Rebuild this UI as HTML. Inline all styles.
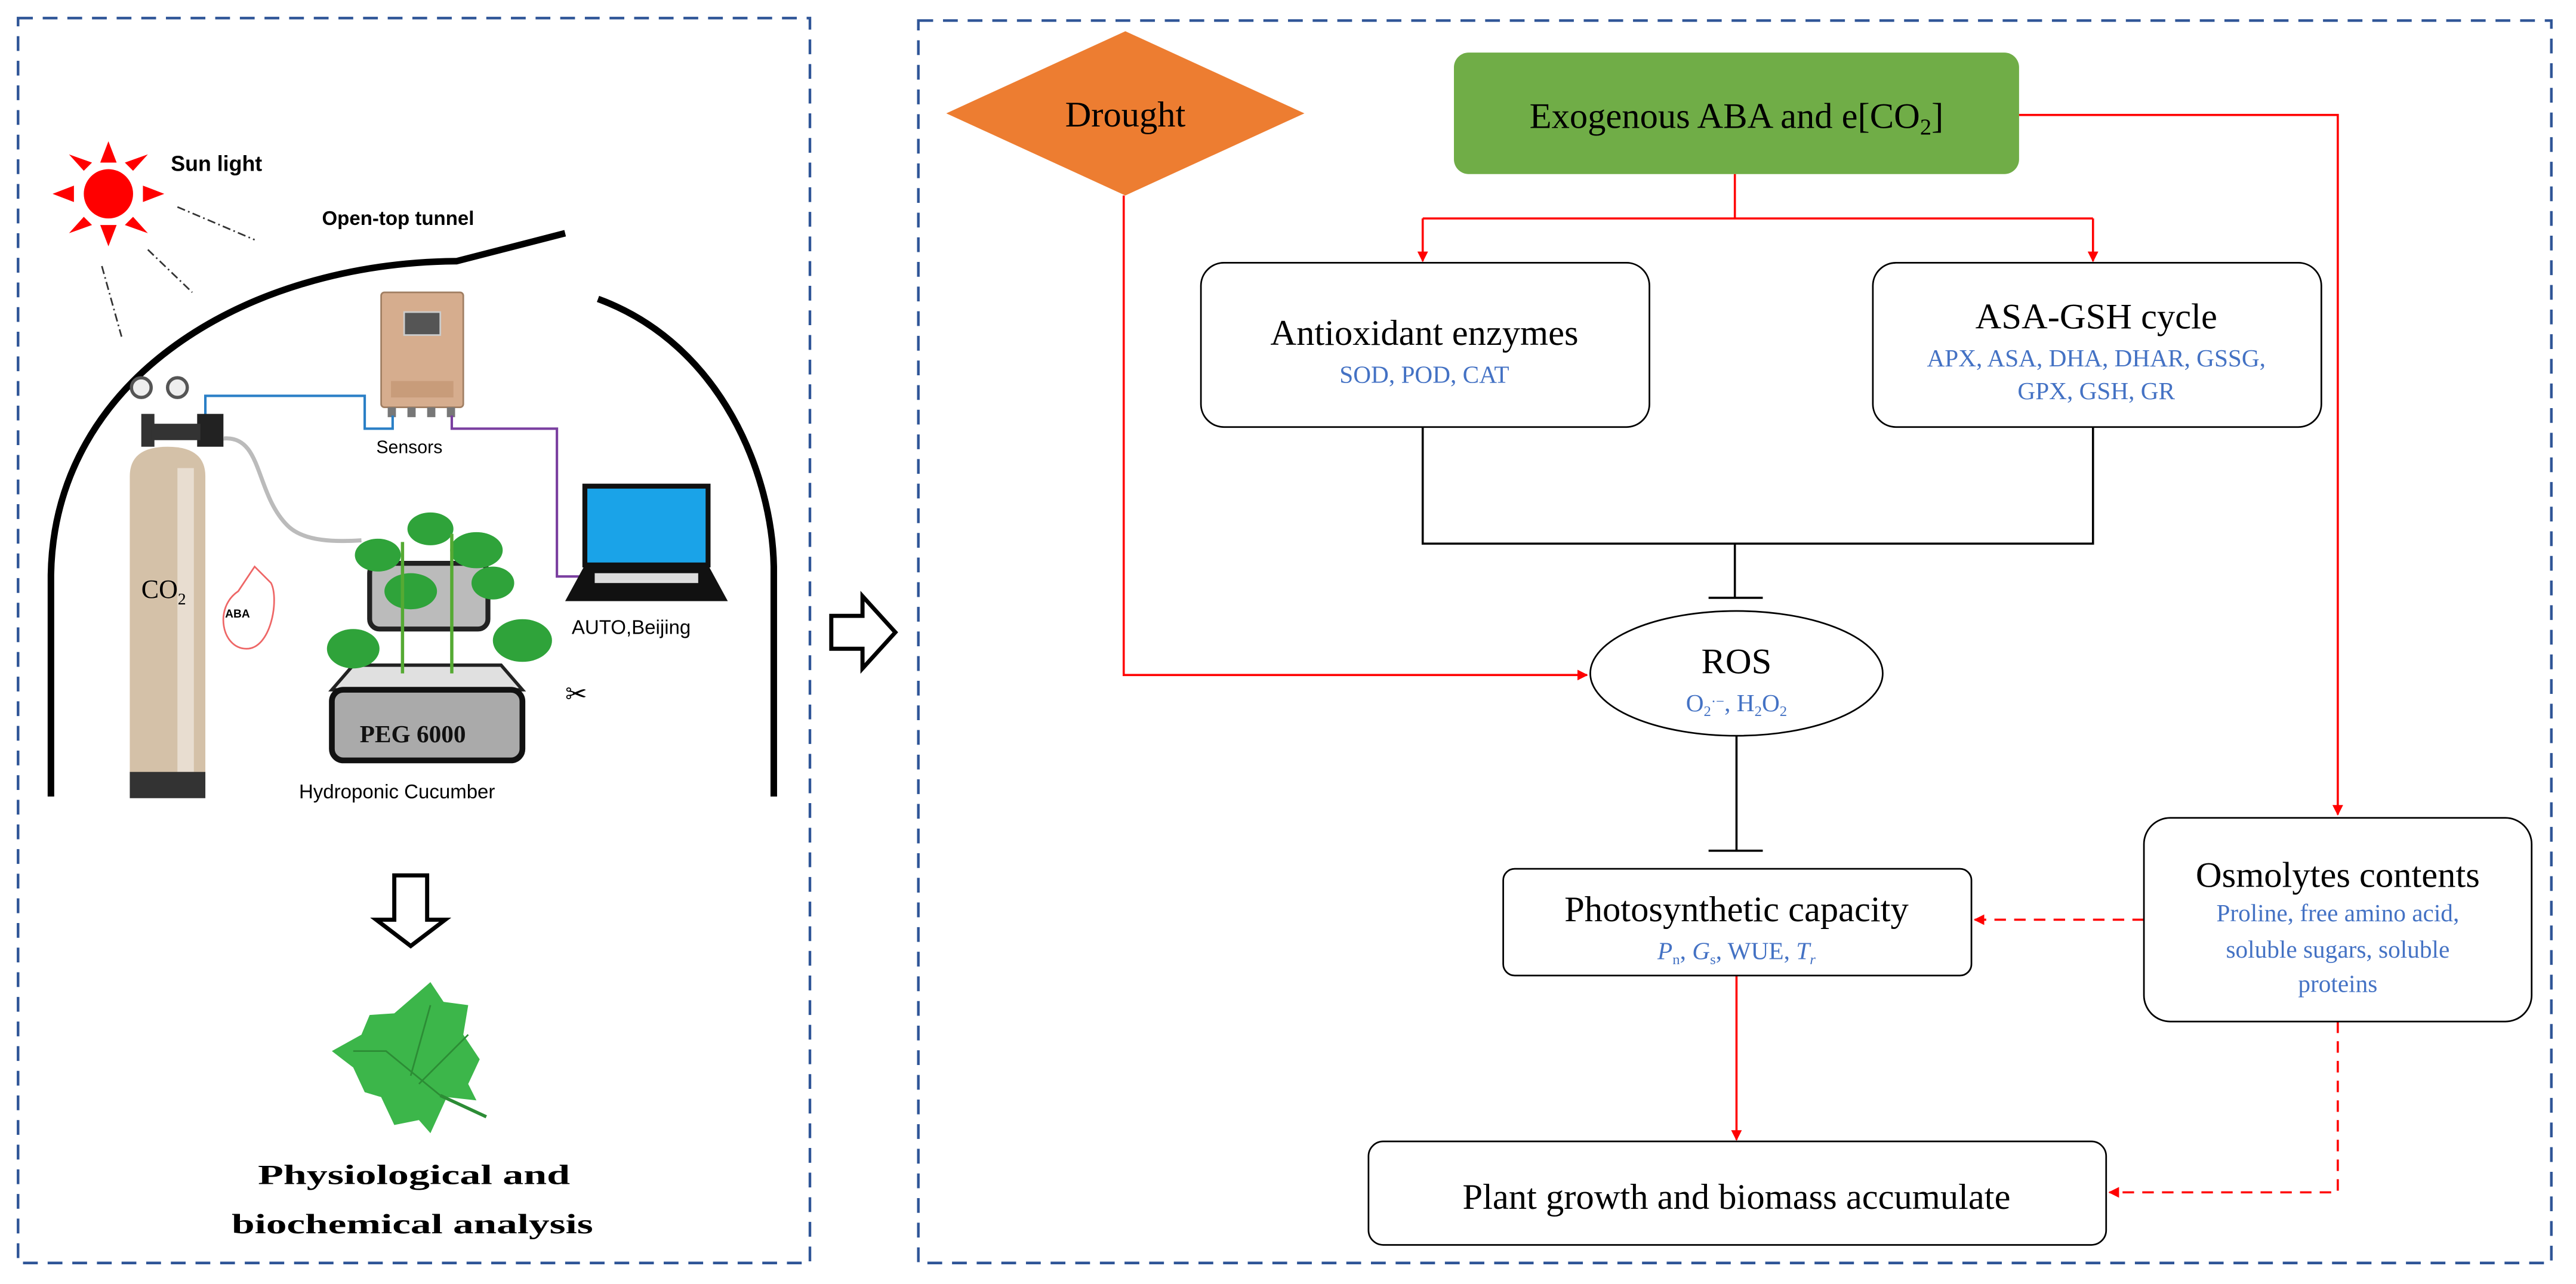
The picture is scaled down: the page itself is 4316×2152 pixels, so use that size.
<!DOCTYPE html>
<html><head><meta charset="utf-8"><style>html,body{margin:0;padding:0;background:#fff}svg{display:block}</style></head>
<body>
<svg width="4316" height="2152" viewBox="0 0 1568 781.8" xmlns="http://www.w3.org/2000/svg">
<defs>
<marker id="ar" viewBox="0 0 10 10" refX="9" refY="5" markerWidth="5" markerHeight="5" orient="auto"><path d="M0,0 L10,5 L0,10 z" fill="#f00"/></marker>
</defs>
<rect width="1568" height="781.8" fill="#fff"/>
<rect x="11" y="11" width="482" height="758" fill="none" stroke="#2F5597" stroke-width="1.6" stroke-dasharray="9 6"/>
<rect x="559" y="12.5" width="994" height="756.5" fill="none" stroke="#2F5597" stroke-width="1.6" stroke-dasharray="9 6"/>

<g font-family="Liberation Sans, sans-serif">
<g fill="#f00">
<circle cx="66" cy="118" r="15"/>
<polygon points="66,86 61,99 71,99"/><polygon points="66,150 61,137 71,137"/>
<polygon points="32,118 45,113 45,123"/><polygon points="100,118 87,113 87,123"/>
<polygon points="42,94 51,104 56,99"/><polygon points="90,94 81,104 76,99"/>
<polygon points="42,142 51,132 56,137"/><polygon points="90,142 81,132 76,137"/>
</g>
<g stroke="#333" stroke-width="1" stroke-dasharray="5 2 1 2" fill="none">
<line x1="108" y1="126" x2="155" y2="146"/><line x1="90" y1="152" x2="117" y2="178"/><line x1="62" y1="162" x2="74" y2="205"/>
</g>
<text x="104" y="104" font-size="13" font-weight="bold">Sun light</text>
<text x="196" y="137" font-size="12" font-weight="bold">Open-top tunnel</text>
<path d="M31,485 L31,350 C33,230 150,160 278,159 L344,142" fill="none" stroke="#000" stroke-width="4"/>
<path d="M364,182 C440,210 470,290 471,345 L471,485" fill="none" stroke="#000" stroke-width="4"/>
<rect x="232" y="178" width="50" height="70" rx="2" fill="#d6ad8e" stroke="#a07e62"/>
<rect x="246" y="190" width="22" height="14" fill="#555" stroke="#ccc"/>
<rect x="238" y="232" width="38" height="10" fill="#c89c7a"/>
<g fill="#777"><rect x="236" y="248" width="5" height="6"/><rect x="248" y="248" width="5" height="6"/><rect x="260" y="248" width="5" height="6"/><rect x="272" y="248" width="5" height="6"/></g>
<path d="M125,256 L125,241 L222,241 L222,261 L239,261 L239,253" fill="none" stroke="#2a7fc6" stroke-width="1.5"/>
<path d="M275,253 L275,261 L339,261 L339,351 L356,351" fill="none" stroke="#7a3fa0" stroke-width="1.5"/>
<text x="229" y="276" font-size="11">Sensors</text>
<rect x="356" y="296" width="75" height="48" fill="#1aa3e8" stroke="#111" stroke-width="3"/>
<polygon points="356,344 431,344 443,366 344,366" fill="#111"/>
<rect x="362" y="349" width="63" height="6" fill="#ddd"/>
<text x="348" y="386" font-size="12">AUTO,Beijing</text>
<rect x="86" y="252" width="8" height="20" fill="#333"/>
<rect x="120" y="252" width="16" height="20" fill="#222"/>
<rect x="92" y="258" width="30" height="10" fill="#333"/>
<circle cx="86" cy="236" r="6" fill="#eee" stroke="#555" stroke-width="2"/>
<circle cx="108" cy="236" r="6" fill="#eee" stroke="#555" stroke-width="2"/>
<path d="M79,290 Q79,272 102,272 Q125,272 125,290 L125,478 L79,478 Z" fill="#d4c1a8"/>
<rect x="108" y="285" width="10" height="185" fill="#e8ddd0"/>
<rect x="79" y="470" width="46" height="16" fill="#333"/>
<text x="86" y="364" font-size="16" font-family="Liberation Serif, serif">CO<tspan font-size="10" dy="4">2</tspan></text>
<path d="M136,267 C160,265 155,300 175,320 C185,330 205,330 220,329" fill="none" stroke="#bbb" stroke-width="2.5"/>
<path d="M145,360 C130,370 135,395 150,395 C165,395 170,365 165,355 L155,345 Z" fill="none" stroke="#e66" stroke-width="1"/>
<text x="137" y="376" font-size="7" font-weight="bold">ABA</text>
<rect x="225" y="343" width="72" height="40" rx="6" fill="#bbb" stroke="#222" stroke-width="3"/>
<polygon points="215,405 305,405 318,420 202,420" fill="#e0e0e0" stroke="#222" stroke-width="2"/>
<rect x="202" y="420" width="116" height="43" rx="7" fill="#aaa" stroke="#111" stroke-width="3.5"/>
<text x="219" y="452" font-size="15" font-weight="bold" font-family="Liberation Serif, serif" fill="#111">PEG 6000</text>
<g fill="#2fa33a">
<ellipse cx="230" cy="338" rx="14" ry="10"/><ellipse cx="262" cy="322" rx="14" ry="10"/><ellipse cx="290" cy="335" rx="16" ry="11"/>
<ellipse cx="215" cy="395" rx="16" ry="12"/><ellipse cx="318" cy="390" rx="18" ry="13"/><ellipse cx="250" cy="360" rx="16" ry="11"/><ellipse cx="300" cy="355" rx="13" ry="10"/>
</g>
<g stroke="#5a3" stroke-width="2"><line x1="245" y1="330" x2="245" y2="410"/><line x1="275" y1="325" x2="275" y2="410"/></g>
<text x="344" y="428" font-size="16">✂</text>
<text x="182" y="486" font-size="12">Hydroponic Cucumber</text>
<polygon points="240,533 260,533 260,560 271,560 250,576 229,560 240,560" fill="#fff" stroke="#000" stroke-width="2.5"/>
<path d="M202,640 L220,630 L225,618 L240,617 L262,598 L270,610 L285,612 L282,630 L292,645 L285,660 L290,670 L272,668 L262,690 L255,682 L240,685 L232,668 L222,665 L215,650 Z" fill="#3cb64a"/>
<g stroke="#2c8c35" stroke-width="1" fill="none"><path d="M268,667 L235,640 L215,640"/><path d="M250,655 L262,612"/><path d="M255,660 L285,630"/></g>
<line x1="268" y1="667" x2="296" y2="680" stroke="#2c8c35" stroke-width="2"/>
<text x="252" y="721" font-size="17" font-weight="bold" text-anchor="middle" font-family="Liberation Serif, serif" textLength="190" lengthAdjust="spacingAndGlyphs">Physiological and</text>
<text x="251" y="751" font-size="17" font-weight="bold" text-anchor="middle" font-family="Liberation Serif, serif" textLength="220" lengthAdjust="spacingAndGlyphs">biochemical analysis</text>
</g>
<polygon points="506,375 525,375 525,363 545,385 525,407 525,395 506,395" fill="#fff" stroke="#000" stroke-width="2.5"/>

<g font-family="Liberation Serif, serif">
<polygon points="685,19 794,69 685,119 576,69" fill="#ED7D31"/>
<text x="685" y="77" font-size="22" text-anchor="middle">Drought</text>
<rect x="885" y="32" width="344" height="74" rx="9" fill="#70AD47"/>
<text x="1057" y="78" font-size="22" text-anchor="middle">Exogenous ABA and e[CO<tspan font-size="14" dy="4">2</tspan><tspan dy="-4">]</tspan></text>

<g fill="none" stroke="#f00" stroke-width="1.3">
<path d="M684,119 L684,411 L966,411" marker-end="url(#ar)"/>
<path d="M1229,70 L1423,70 L1423,496" marker-end="url(#ar)"/>
<path d="M1056,106 L1056,133"/>
<path d="M866,133 L1274,133"/>
<path d="M866,133 L866,159" marker-end="url(#ar)"/>
<path d="M1274,133 L1274,159" marker-end="url(#ar)"/>
<path d="M1057,594 L1057,694" marker-end="url(#ar)"/>
<path d="M1305,560 L1202,560" stroke-dasharray="7 5" marker-end="url(#ar)"/>
<path d="M1423,622 L1423,726 L1284,726" stroke-dasharray="7 5" marker-end="url(#ar)"/>
</g>
<g fill="none" stroke="#000" stroke-width="1.3">
<path d="M866,260 L866,331 L1274,331 L1274,260"/>
<path d="M1056,331 L1056,364"/><path d="M1040,364 L1073,364"/>
<path d="M1057,448 L1057,518"/><path d="M1040,518 L1073,518"/>
</g>
<rect x="731" y="160" width="273" height="100" rx="14" fill="#fff" stroke="#000" stroke-width="1"/>
<text x="867" y="210" font-size="22" text-anchor="middle">Antioxidant enzymes</text>
<text x="867" y="233" font-size="15" fill="#4472C4" text-anchor="middle">SOD, POD, CAT</text>
<rect x="1140" y="160" width="273" height="100" rx="14" fill="#fff" stroke="#000" stroke-width="1"/>
<text x="1276" y="200" font-size="22" text-anchor="middle">ASA-GSH cycle</text>
<text x="1276" y="223" font-size="15" fill="#4472C4" text-anchor="middle">APX, ASA, DHA, DHAR, GSSG,</text>
<text x="1276" y="243" font-size="15" fill="#4472C4" text-anchor="middle">GPX, GSH, GR</text>
<ellipse cx="1057" cy="410" rx="89" ry="38" fill="#fff" stroke="#000" stroke-width="1"/>
<text x="1057" y="410" font-size="22" text-anchor="middle">ROS</text>
<text x="1057" y="433" font-size="15" fill="#4472C4" text-anchor="middle">O<tspan font-size="9" dy="3">2</tspan><tspan dy="-6" font-size="9">·−</tspan><tspan dy="3">, H</tspan><tspan font-size="9" dy="3">2</tspan><tspan dy="-3">O</tspan><tspan font-size="9" dy="3">2</tspan></text>
<rect x="915" y="529" width="285" height="65" rx="7" fill="#fff" stroke="#000" stroke-width="1"/>
<text x="1057" y="561" font-size="22" text-anchor="middle">Photosynthetic capacity</text>
<text x="1057" y="584" font-size="15" fill="#4472C4" text-anchor="middle"><tspan font-style="italic">P</tspan><tspan font-size="9" dy="3">n</tspan><tspan dy="-3">, </tspan><tspan font-style="italic">G</tspan><tspan font-size="9" dy="3">s</tspan><tspan dy="-3">, WUE, </tspan><tspan font-style="italic">T</tspan><tspan font-size="9" dy="3" font-style="italic">r</tspan></text>
<rect x="1305" y="498" width="236" height="124" rx="16" fill="#fff" stroke="#000" stroke-width="1"/>
<text x="1423" y="540" font-size="22" text-anchor="middle">Osmolytes contents</text>
<text x="1423" y="561" font-size="15" fill="#4472C4" text-anchor="middle">Proline, free amino acid,</text>
<text x="1423" y="583" font-size="15" fill="#4472C4" text-anchor="middle">soluble sugars, soluble</text>
<text x="1423" y="604" font-size="15" fill="#4472C4" text-anchor="middle">proteins</text>
<rect x="833" y="695" width="449" height="63" rx="9" fill="#fff" stroke="#000" stroke-width="1"/>
<text x="1057" y="736" font-size="22" text-anchor="middle">Plant growth and biomass accumulate</text>
</g>
</svg>
</body></html>
